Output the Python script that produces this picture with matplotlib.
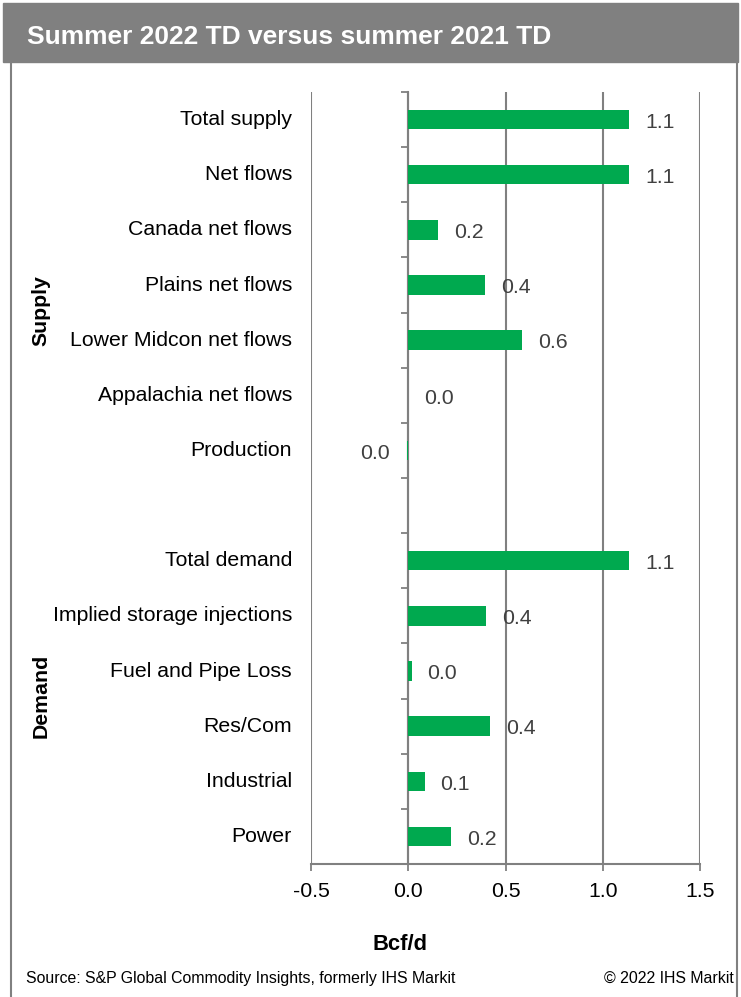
#! /usr/bin/env python
""" Horizontal bar chart of the summer 2022 to-date versus summer 2021
to-date balance changes, split into supply and demand items.
"""
import matplotlib
matplotlib.use("Agg")
import matplotlib.pyplot as plt
from matplotlib.patches import Rectangle
import numpy as np

plt.rcParams["font.family"] = ["Liberation Sans", "DejaVu Sans"]

supply_labels = ["Total supply", "Net flows", "Canada net flows",
                 "Plains net flows", "Lower Midcon net flows",
                 "Appalachia net flows", "Production"]
supply_values = [1.137, 1.137, 0.154, 0.396, 0.586, 0.0, -0.004]

demand_labels = ["Total demand", "Implied storage injections",
                 "Fuel and Pipe Loss", "Res/Com", "Industrial", "Power"]
demand_values = [1.137, 0.40, 0.017, 0.419, 0.084, 0.221]

x_ticks = [-0.5, 0.0, 0.5, 1.0, 1.5]

GREEN = "#00A94F"
GREY = "#808080"
FS = 15.3


def main():
    fig = plt.figure(figsize=(7.41, 9.97), dpi=100)

    # title band and frame
    fig.patches.append(Rectangle((0.004, 1 - 62 / 997), 0.992, 59 / 997,
                                 transform=fig.transFigure, color=GREY,
                                 zorder=0))
    fig.add_artist(plt.Line2D([11 / 741, 11 / 741], [0, 1 - 62 / 997],
                              color=GREY, lw=1.5))
    fig.add_artist(plt.Line2D([737 / 741, 737 / 741], [0, 1 - 62 / 997],
                              color=GREY, lw=1.5))
    fig.text(27 / 741, 1 - 37 / 997, "Summer 2022 TD versus summer 2021 TD",
             color="white", fontsize=19, fontweight="bold", va="center",
             ha="left")

    ax = fig.add_axes([311 / 741, 1 - 864 / 997, 389 / 741, 772 / 997])

    labels = supply_labels + [""] + demand_labels
    values = supply_values + [np.nan] + demand_values
    pos = np.arange(len(labels))

    ax.barh(pos, np.nan_to_num(values), height=0.35, color=GREEN, zorder=3)

    for y, (lab, v) in enumerate(zip(labels, values)):
        if not lab:
            continue
        ax.text(-0.049, y, lab, transform=ax.get_yaxis_transform(),
                ha="right", va="center", fontsize=FS, color="black")
        if v < 0:
            ax.annotate("%.1f" % abs(v), (v, y), xytext=(-13, -2),
                        textcoords="offset points", ha="right", va="center",
                        fontsize=FS, color="#404040")
        else:
            ax.annotate("%.1f" % v, (v, y), xytext=(11.5, -2),
                        textcoords="offset points", ha="left", va="center",
                        fontsize=FS, color="#404040")

    ax.set_xlim(-0.5, 1.5)
    ax.set_ylim(len(labels) - 0.5, -0.5)
    ax.set_xticks(x_ticks)
    ax.set_xticklabels(["%.1f" % t for t in x_ticks], fontsize=FS)
    ax.tick_params(axis="x", length=5, width=1.3, color=GREY, pad=8)
    ax.grid(axis="x", color=GREY, lw=1.5, zorder=0)
    ax.set_axisbelow(True)

    # category axis sits on zero with ticks between categories
    ax.spines["left"].set_position(("data", 0))
    ax.spines["left"].set_color(GREY)
    ax.spines["left"].set_linewidth(1.5)
    ax.set_yticks(np.arange(-0.5, len(labels)))
    ax.set_yticklabels([])
    ax.tick_params(axis="y", length=5, width=1.3, color=GREY)
    ax.spines["bottom"].set_color(GREY)
    ax.spines["bottom"].set_linewidth(1.5)
    ax.spines["top"].set_visible(False)
    ax.spines["right"].set_visible(False)

    fig.text(41 / 741, 1 - 311 / 997, "Supply", rotation=90, fontsize=FS,
             fontweight="bold", ha="center", va="center")
    fig.text(41 / 741, 1 - 696 / 997, "Demand", rotation=90, fontsize=FS,
             fontweight="bold", ha="center", va="center")
    fig.text(400 / 741, 1 - 944 / 997, "Bcf/d", fontsize=15.8,
             fontweight="bold", ha="center", va="center")

    fig.text(26 / 741, 1 - 978 / 997,
             "Source: S&P Global Commodity Insights, formerly IHS Markit",
             fontsize=11.4, ha="left", va="center")
    fig.text(734 / 741, 1 - 978 / 997, "\u00a9 2022 IHS Markit",
             fontsize=11.4, ha="right", va="center")

    fig.savefig("out.png", dpi=100)


if __name__ == '__main__':
    main()
